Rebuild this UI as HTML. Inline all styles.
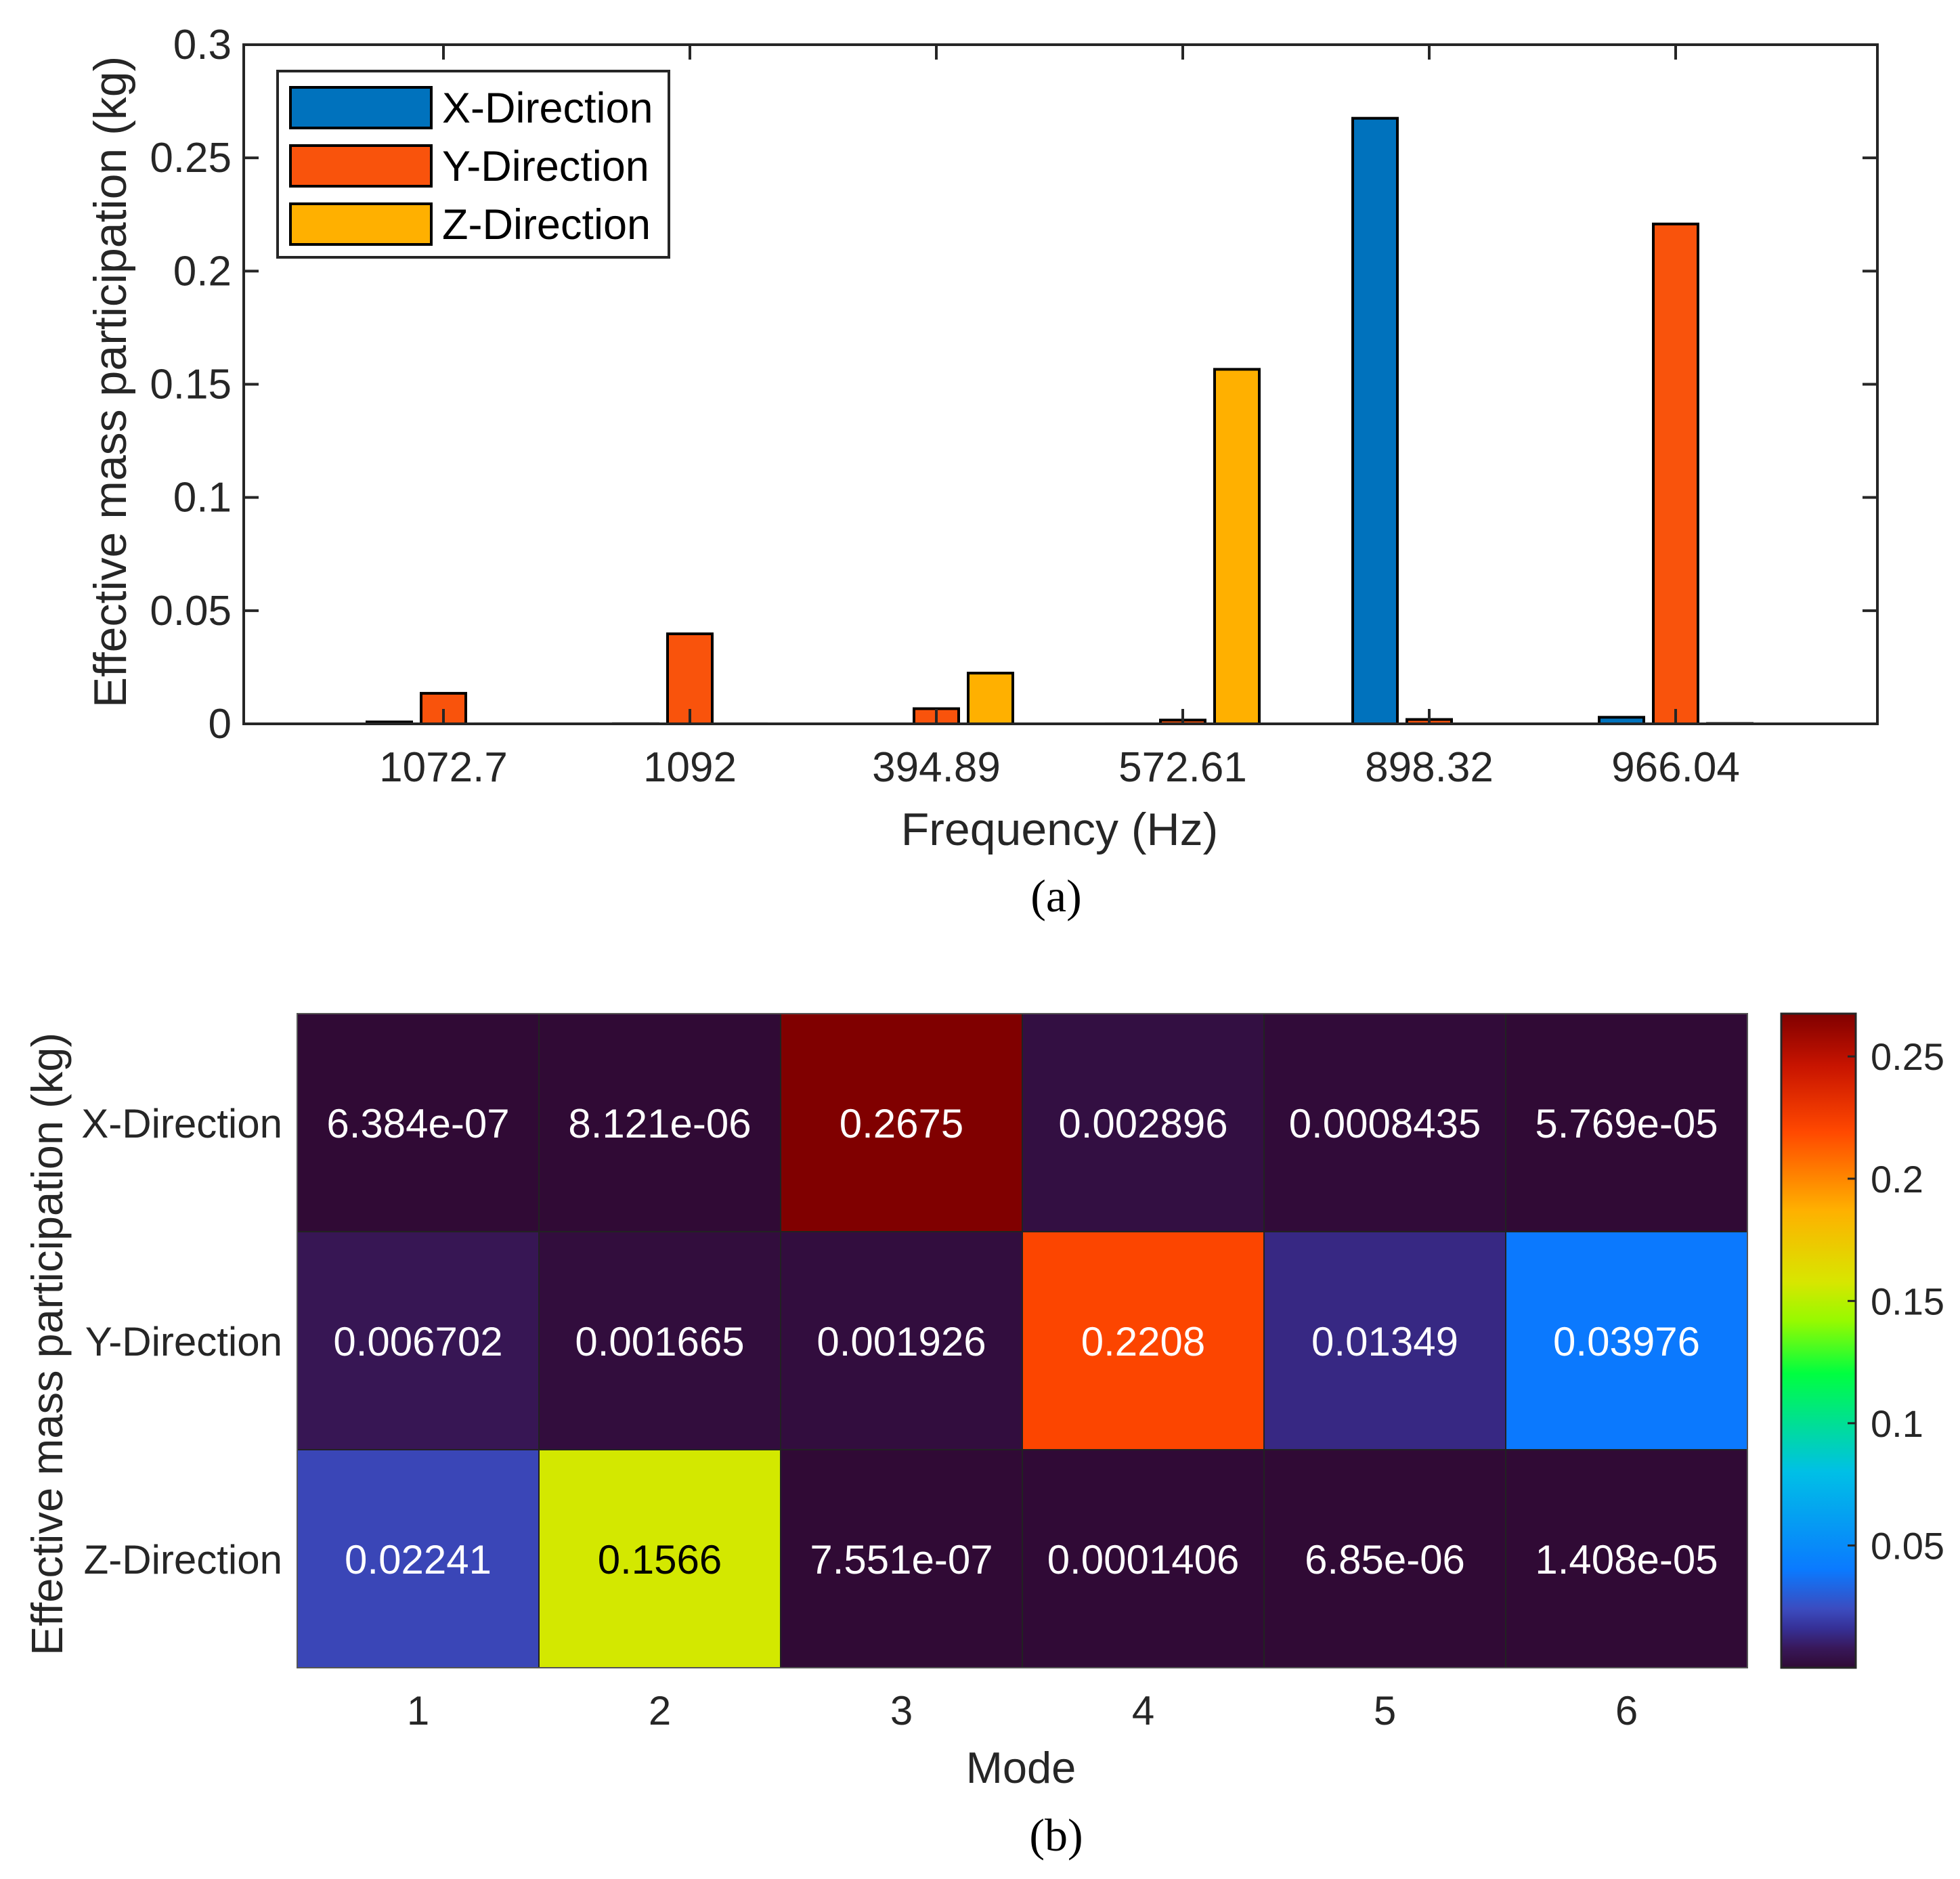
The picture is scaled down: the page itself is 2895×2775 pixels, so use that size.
<!DOCTYPE html>
<html><head><meta charset="utf-8"><style>
html,body{margin:0;padding:0;background:#fff;}
svg{display:block;font-family:"Liberation Sans",Arial,sans-serif;}
</style></head><body>
<svg id="fig" width="2895" height="2775" viewBox="0 0 2895 2775" xmlns="http://www.w3.org/2000/svg">
<g id="barChart"></g>
<g id="heat"></g>
</svg>
<script>
const categories = ["1072.7","1092","394.89","572.61","898.32","966.04"];
const xValues = [0.0008435,0.00005769,0.0000006384,0.000008121,0.2675,0.002896];
const yValues = [0.01349,0.03976,0.006702,0.001665,0.001926,0.2208];
const zValues = [0.000006850,0.00001408,0.02241,0.1566,0.0000007551,0.0001406];
const yTicks = [0,0.05,0.1,0.15,0.2,0.25,0.3];
const yTickLabels = ["0","0.05","0.1","0.15","0.2","0.25","0.3"];

const modes = ["1","2","3","4","5","6"];
const dirs = ["X-Direction","Y-Direction","Z-Direction"];
const heatX = [6.384e-07,8.121e-06,0.2675,0.002896,0.0008435,5.769e-05];
const heatY = [0.006702,0.001665,0.001926,0.2208,0.01349,0.03976];
const heatZ = [0.02241,0.1566,7.551e-07,0.0001406,6.85e-06,1.408e-05];
const heatLabelsX = ["6.384e-07","8.121e-06","0.2675","0.002896","0.0008435","5.769e-05"];
const heatLabelsY = ["0.006702","0.001665","0.001926","0.2208","0.01349","0.03976"];
const heatLabelsZ = ["0.02241","0.1566","7.551e-07","0.0001406","6.85e-06","1.408e-05"];
const cbTicks = [0.05,0.1,0.15,0.2,0.25];
const cbTickLabels = ["0.05","0.1","0.15","0.2","0.25"];

const NS="http://www.w3.org/2000/svg";
function mk(parent,tag,attrs,text){const e=document.createElementNS(NS,tag);for(const k in attrs)e.setAttribute(k,attrs[k]);if(text!==undefined)e.textContent=text;parent.appendChild(e);return e;}

// ---------- Bar chart ----------
const bc=document.getElementById('barChart');
const L=360,R=2773,T=66,B=1069;
const yS=v=>B-(v/0.3)*(B-T);
const xS=i=>655+i*364;
const BW=66, OFF=80;
const series=[{vals:xValues,col:"#0072BD",off:-OFF,name:"X"},{vals:yValues,col:"#F9530C",off:0,name:"Y"},{vals:zValues,col:"#FFB000",off:OFF,name:"Z"}];
series.forEach(s=>{s.vals.forEach((v,i)=>{
  const r=mk(bc,'rect',{x:xS(i)+s.off-BW/2,y:yS(v),width:BW,height:B-yS(v),fill:s.col,stroke:"#000","stroke-width":4});
  
  
});});
const ax=mk(bc,'rect',{x:L,y:T,width:R-L,height:B-T,fill:"none",stroke:"#262626","stroke-width":4});


yTicks.forEach((t,i)=>{
  const y=yS(t);
  mk(bc,'line',{x1:L,x2:L+22,y1:y,y2:y,stroke:"#262626","stroke-width":4});
  mk(bc,'line',{x1:R,x2:R-22,y1:y,y2:y,stroke:"#262626","stroke-width":4});
  const tx=mk(bc,'text',{x:L-18,y:y+21,"text-anchor":"end","font-size":62,fill:"#262626"},yTickLabels[i]);
  
  
});
categories.forEach((c,i)=>{
  const x=xS(i);
  mk(bc,'line',{x1:x,x2:x,y1:B,y2:B-22,stroke:"#262626","stroke-width":4});
  mk(bc,'line',{x1:x,x2:x,y1:T,y2:T+22,stroke:"#262626","stroke-width":4});
  const tx=mk(bc,'text',{x:x,y:1154,"text-anchor":"middle","font-size":62,fill:"#262626"},c);
  
  
});
let t1=mk(bc,'text',{x:1565,y:1248,"text-anchor":"middle","font-size":68,fill:"#262626"},"Frequency (Hz)");

let t2=mk(bc,'text',{x:0,y:0,"text-anchor":"middle","font-size":68,fill:"#262626",transform:"translate(186,564) rotate(-90)"},"Effective mass participation (kg)");

let t3=mk(bc,'text',{x:1560,y:1346,"text-anchor":"middle","font-size":68,fill:"#000","font-family":"Liberation Serif, serif"},"(a)");

// legend
const lg=mk(bc,'g',{});

mk(lg,'rect',{x:410,y:105,width:578,height:275,fill:"#fff",stroke:"#262626","stroke-width":4});
const legNames=["X-Direction","Y-Direction","Z-Direction"];
series.forEach((s,i)=>{
  const yy=129+i*86;
  const g=mk(lg,'g',{});
  
  
  mk(g,'rect',{x:429,y:yy,width:208,height:60,fill:s.col,stroke:"#000","stroke-width":4});
  mk(g,'text',{x:653,y:yy+52,"font-size":63,fill:"#000"},legNames[i]);
});

// ---------- Heatmap ----------
const hm=document.getElementById('heat');
const HL=439,HR=2581,HT=1497,HB=2463;
const cw=(HR-HL)/6, ch=(HB-HT)/3;
const cmax=0.2675;
const stops=[[0,[48,10,53]],[0.03,[56,24,90]],[0.06,[54,48,150]],[0.09,[59,76,192]],[0.15,[10,122,255]],[0.3,[0,192,230]],[0.45,[0,255,64]],[0.53,[150,250,0]],[0.59,[216,230,0]],[0.7,[255,176,0]],[0.82,[255,72,0]],[0.92,[200,20,0]],[1,[128,0,0]]];
function cmap(f){f=Math.max(0,Math.min(1,f));for(let i=1;i<stops.length;i++){if(f<=stops[i][0]){const a=stops[i-1],b=stops[i],t=(f-a[0])/(b[0]-a[0]);const c=a[1].map((v,k)=>Math.round(v+(b[1][k]-v)*t));return `rgb(${c[0]},${c[1]},${c[2]})`;}}return "rgb(128,0,0)";}
const rows=[heatX,heatY,heatZ], rowLabels=[heatLabelsX,heatLabelsY,heatLabelsZ];
rows.forEach((row,r)=>{row.forEach((v,c)=>{
  const x=HL+c*cw,y=HT+r*ch;
  const cell=mk(hm,'rect',{x:x,y:y,width:cw,height:ch,fill:cmap(v/cmax),stroke:"#222","stroke-width":2});
  
  
  const lab=mk(hm,'text',{x:x+cw/2,y:y+ch/2+22,"text-anchor":"middle","font-size":60,fill:(v/cmax>0.45&&v/cmax<0.65)?"#000":"#fff"},rowLabels[r][c]);
  
  
});});
mk(hm,'rect',{x:HL,y:HT,width:HR-HL,height:HB-HT,fill:"none",stroke:"#555","stroke-width":2});
dirs.forEach((d,r)=>{
  const t=mk(hm,'text',{x:417,y:HT+r*ch+ch/2+22,"text-anchor":"end","font-size":60,fill:"#262626"},d);
  
});
modes.forEach((m,c)=>{
  const t=mk(hm,'text',{x:HL+c*cw+cw/2,y:2547,"text-anchor":"middle","font-size":60,fill:"#262626"},m);
  
});
let t4=mk(hm,'text',{x:1508,y:2633,"text-anchor":"middle","font-size":65,fill:"#262626"},"Mode");

let t5=mk(hm,'text',{x:0,y:0,"text-anchor":"middle","font-size":65,fill:"#262626",transform:"translate(92,1985) rotate(-90)"},"Effective mass participation (kg)");

let t6=mk(hm,'text',{x:1560,y:2733,"text-anchor":"middle","font-size":68,fill:"#000","font-family":"Liberation Serif, serif"},"(b)");

// colorbar
const CL=2631,CR=2741;
const defs=mk(hm,'defs',{});
const grad=mk(defs,'linearGradient',{id:"cbg",x1:0,y1:1,x2:0,y2:0});
stops.forEach(s=>mk(grad,'stop',{offset:s[0],"stop-color":`rgb(${s[1].join(',')})`}));
const cb=mk(hm,'rect',{x:CL,y:HT,width:CR-CL,height:HB-HT,fill:"url(#cbg)",stroke:"#262626","stroke-width":3});

cbTicks.forEach((t,i)=>{
  const y=HB-(t/cmax)*(HB-HT);
  mk(hm,'line',{x1:CR,x2:CR-12,y1:y,y2:y,stroke:"#262626","stroke-width":3});
  const tx=mk(hm,'text',{x:2763,y:y+20,"font-size":56,fill:"#262626"},cbTickLabels[i]);
  
});
</script>
</body></html>
